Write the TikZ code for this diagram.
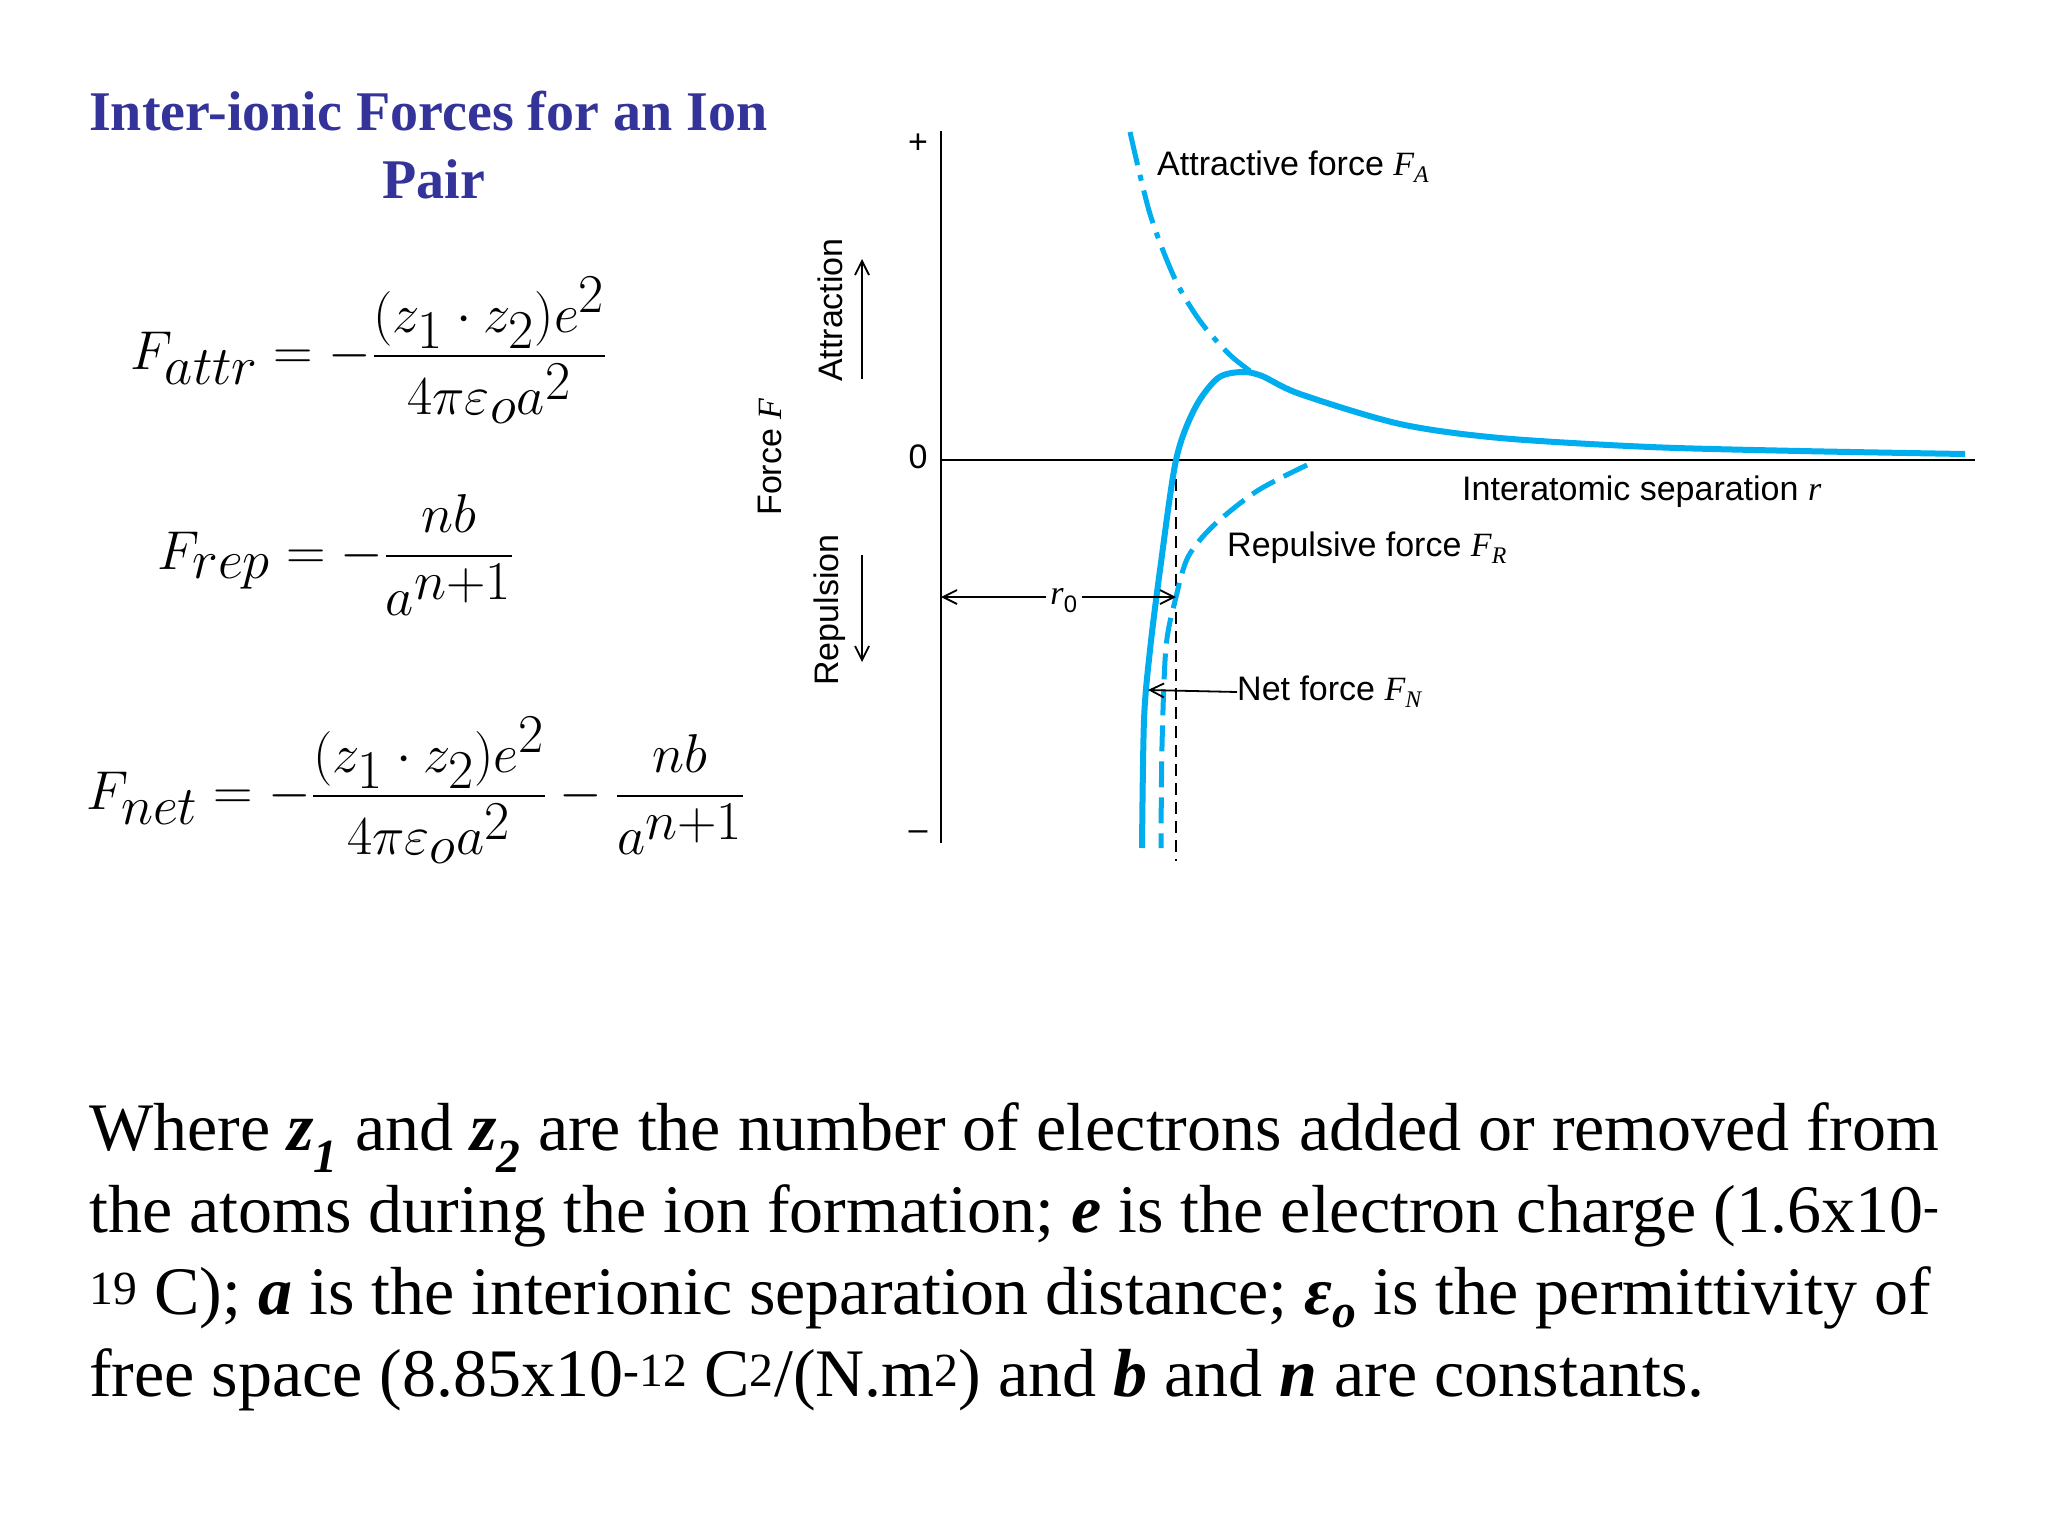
\documentclass[tikz,border=0pt]{standalone}
\usepackage{amsmath}
\usepackage{graphicx}
\usepackage{fontspec}
\setmainfont{Liberation Serif}
\setsansfont{Liberation Sans}
\usetikzlibrary{arrows.meta}
\definecolor{titleblue}{RGB}{51,51,153}
\definecolor{curve}{RGB}{0,174,239}
\tikzset{
  lbl/.style={font=\sffamily\fontsize{34}{38}\selectfont, inner sep=0pt},
  para/.style={font=\fontsize{68}{82}\selectfont, anchor=base west, inner sep=0pt},
  eq/.style={inner sep=0pt},
  ax/.style={line width=2.5pt, black},
  fcurve/.style={curve, line width=6pt, line join=round},
  thinarrow/.style={line width=1.8pt, -{Straight Barb[length=14pt,width=14pt]}},
}
\begin{document}
\begin{tikzpicture}[x=1pt,y=-1pt]
\useasboundingbox (0,0) rectangle (2048,1534);
\fill[white] (0,0) rectangle (2048,1534);
% title
\node[font=\bfseries\fontsize{56}{60}\selectfont, text=titleblue, anchor=base west, inner sep=0pt] (t1) at (89,130) {Inter-ionic Forces for an Ion};
\node[font=\bfseries\fontsize{56}{60}\selectfont, text=titleblue, anchor=base, inner sep=0pt] (t2) at (434,198) {Pair};
% equations
\node[eq] (e1) at (369,350) {\scalebox{2.2}{\fontsize{50}{60}\selectfont$F_{attr} = -\dfrac{(z_1\cdot z_2)e^2}{4\pi\varepsilon_o a^2}$}};
\node[eq] (e2) at (336,555) {\scalebox{2.2}{\fontsize{50}{60}\selectfont$F_{rep} = -\dfrac{nb}{a^{n+1}}$}};
\node[eq] (e3) at (416,790) {\scalebox{2.2}{\fontsize{50}{60}\selectfont$F_{net} = -\dfrac{(z_1\cdot z_2)e^2}{4\pi\varepsilon_o a^2} - \dfrac{nb}{a^{n+1}}$}};
% axes
\coordinate (yt) at (941,131);
\coordinate (yb) at (941,843);
\coordinate (o) at (941,460);
\coordinate (xe) at (1975,460);
\draw[ax] (yt) -- (yb);
\draw[line width=2.5pt] (o) -- (xe);
\node[lbl] (plus) at (918,144) {+};
\node[lbl] (zero) at (918,457) {0};
\node[lbl] (minus) at (918,836) {–};
\node[lbl, rotate=90] (force) at (770,457) {Force \textit{\rmfamily F}};
\node[lbl, rotate=90] (attr) at (830,310) {Attraction};
\coordinate (aa) at (862,379); \coordinate (ab) at (862,259);
\draw[thinarrow] (aa) -- (ab);
\node[lbl, rotate=90] (rep) at (830,610) {Repulsion};
\coordinate (ra) at (862,555); \coordinate (rb) at (862,662);
\draw[thinarrow] (ra) -- (rb);
% r0 dashed
\coordinate (r0t) at (1176,460); \coordinate (r0b) at (1176,861);
\draw[line width=1.8pt, dash pattern=on 12pt off 7pt] (r0t) -- (r0b);
% curves
\draw[curve, line width=5pt, dash pattern=on 34pt off 10pt on 6pt off 10pt]
  plot[smooth] coordinates {(1130,132) (1150,214) (1175,279) (1200,321) (1230,355) (1257,376)};
\draw[curve, line width=5pt, dash pattern=on 26pt off 10pt]
  plot[smooth] coordinates {(1307,465) (1257,491) (1213,526) (1188,557) (1176,597) (1166,647) (1162,746) (1161,848)};
\draw[fcurve]
  plot[smooth] coordinates {(1142,848) (1144,720) (1150,650) (1160,570) (1176,460) (1195,408) (1218,378) (1242,372) (1262,376) (1300,394) (1400,424) (1500,438) (1650,447) (1800,451) (1965,454)};
% r0 arrows
\node[lbl] (r0l) at (1064,601) {\textit{\rmfamily r}\textsubscript{\sffamily 0}};
\coordinate (r0a) at (941,597); \coordinate (r0c) at (1176,597);
\draw[thinarrow] (r0l.west) ++(-4,-4) -- (r0a);
\draw[thinarrow] (r0l.east) ++(4,-4) -- (r0c);
% labels
\node[lbl, anchor=west] (la) at (1157,167) {Attractive force \textit{\rmfamily F\textsubscript{A}}};
\node[lbl, anchor=west] (ls) at (1462,492) {Interatomic separation \textit{\rmfamily r}};
\node[lbl, anchor=west] (lr) at (1227,548) {Repulsive force \textit{\rmfamily F\textsubscript{R}}};
\node[lbl, anchor=west] (ln) at (1237,692) {Net force \textit{\rmfamily F\textsubscript{N}}};
\coordinate (nt) at (1148,690);
\draw[thinarrow] (ln.west) -- (nt);
% paragraph
\node[para] (p1) at (89,1150) {Where \textbf{\textit{z\textsubscript{1}}} and \textbf{\textit{z\textsubscript{2}}} are the number of electrons added or removed from};
\node[para] (p2) at (89,1232) {the atoms during the ion formation; \textbf{\textit{e}} is the electron charge (1.6x10\textsuperscript{-}};
\node[para] (p3) at (89,1314) {\textsuperscript{19} C); \textbf{\textit{a}} is the interionic separation distance; \textbf{\textit{ε\textsubscript{o}}} is the permittivity of};
\node[para] (p4) at (89,1396) {free space (8.85x10\textsuperscript{-12} C\textsuperscript{2}/(N.m\textsuperscript{2}) and \textbf{\textit{b}} and \textbf{\textit{n}} are constants.};
\end{tikzpicture}
\end{document}
